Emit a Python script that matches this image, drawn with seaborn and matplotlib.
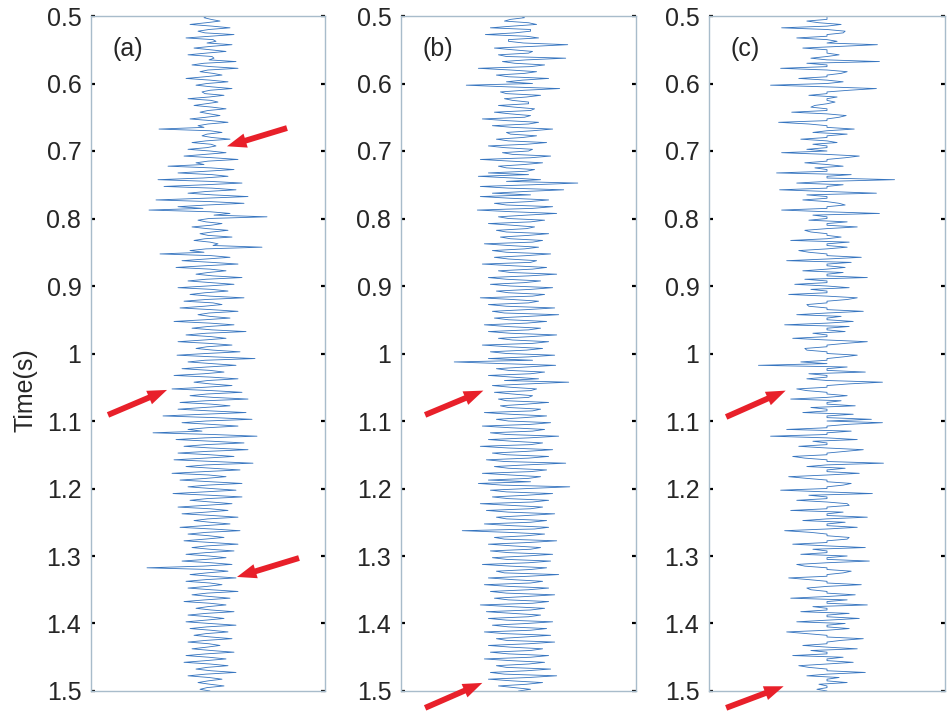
import numpy as np
import pandas as pd
import matplotlib
matplotlib.use("Agg")
import matplotlib.pyplot as plt
import seaborn as sns

# ---------------- data ----------------
# each trace: samples on a 5 ms grid ("base") and the samples half-way between them ("peak")
t_start = 0.5
t_step = 0.005

a_base = [
    0, 3, -2, 4, 1, -3, 2, 5, -1, 3,
    2, -2, 4, 1, -4, 3, 0, 5, -3, 2,
    -1, 4, 2, -3, 1, 3, -2, 4, 0, 2,
    -2, 3, 0, -4, 2, -1, 4, -2, 3, -1,
    2, -3, 5, 0, -4, 3, -2, 4, -5, 2,
    -3, 4, -2, 5, -4, 3, -1, -5, 2, 6,
    1, -2, 3, -1, 4, 0, -3, 2, 5, -2,
    -4, 3, -2, 4, -3, 2, 0, 5, -2, 3,
    -1, 4, -3, 2, -2, 5, -4, 3, 1, 2,
    -3, 2, 0, 4, -2, 3, -4, 1, -1, 5,
    -2, 6, -3, 4, -1, 2, -4, 3, 0, 2,
    -3, 4, -1, 5, -2, 3, -4, 2, -5, 6,
    -2, 3, -1, -6, 5, -3, 4, -2, 3, -1,
    2, -3, 5, -2, 4, -4, 1, -2, 3, -1,
    3, -4, 2, -1, 3, -3, 2, -2, 4, 0,
    2, -3, 4, -2, 1, -3, 3, -1, 2, -2,
    1, -2, 3, -5, 2, -1, 3, -2, 2, -1,
    3, -1, 2, -3, 2, 0, 3, -2, 1, -2,
    2, -1, 3, -2, 3, -2, 1, -1, 3, -2,
    1, -2, 2, -1, 3, -2, 1, 0, 2, -1,
    2,
]
a_peak = [
    -4, 12, -18, 22, -10, 26, -22, 8, 24, -14,
    18, -20, 6, 28, -16, 30, -8, 14, -22, 20,
    -12, 24, -6, 16, -20, 10, -14, 18, -8, 12,
    -18, 20, -10, -49, 14, -6, 22, -16, 8, -20,
    18, -24, 30, -12, -40, 26, -30, 20, -50, 34,
    -44, 28, -20, 40, -52, 36, -30, -59, 22, 59,
    -10, 14, -16, 20, -8, 24, -14, 10, 54, -18,
    -48, 22, -26, 30, -32, 18, -12, 34, -20, 26,
    -30, 20, -18, 36, -24, 14, -28, 30, -10, 22,
    -34, 26, -16, 38, -22, 18, -30, 24, -12, 32,
    -31, 47, -20, 28, -26, 16, -34, 30, -14, 24,
    -36, 34, -18, 40, -28, 22, -30, 38, -45, 44,
    -26, 30, -20, -55, 49, -32, 36, -24, 40, -30,
    26, -34, 45, -22, 32, -36, 18, -28, 34, -20,
    28, -35, 34, -18, 24, -30, 20, -26, 30, -14,
    22, -28, 32, -20, 16, -24, 30, -16, 26, -22,
    18, -26, 24, -61, 20, -18, 28, -22, 14, -20,
    30, -16, 22, -24, 18, -12, 26, -20, 16, -22,
    28, -18, 20, -14, 24, -20, 12, -16, 26, -22,
    18, -24, 20, -12, 28, -20, 14, -10, 16, -8,
]

b_base = [
    2, -8, 10, -6, 12, -4, 8, -10, 5, 14,
    -6, 10, -12, 8, -4, 12, -8, 6, -10, 4,
    14, -10, 6, -12, 8, -6, 10, -4, 12, -8,
    6, -12, 10, -6, 14, -8, 4, -10, 8, -14,
    10, -6, 12, -8, 6, -12, 8, 10, -6, -12,
    14, -10, 6, 12, -8, 10, -12, 14, -6, 8,
    -10, 12, -6, 8, -12, 10, -8, 14, -10, 6,
    -12, 8, -10, 12, -6, 14, -8, 10, -12, 6,
    -8, 12, -10, 14, -6, 10, -12, 8, -14, 10,
    -10, 8, -12, 10, -8, 12, -6, 14, -10, 8,
    -12, 10, 14, -16, 8, -10, 12, -6, -14, 10,
    -8, 12, -6, 10, -12, 8, -10, 14, -8, 6,
    -10, 12, -8, 14, -12, 10, -6, 12, -10, 8,
    -12, 10, -14, 8, -10, 12, -8, 10, 12, -16,
    10, -12, 8, -10, 14, -6, 12, -10, 8, -12,
    12, -8, 16, -10, 8, -14, 10, -6, 12, -10,
    8, -12, 10, -8, 12, -14, 10, -6, 12, -10,
    10, -12, 8, -10, 14, -8, 12, -6, 10, -12,
    8, -10, 12, -14, 6, -12, 10, -8, 12, -10,
    12, -8, 10, -12, 8, -14, 10, -6, 8, -4,
    0,
]
b_peak = [
    6, -14, 18, -28, 12, -33, 20, -10, 49, -24,
    14, -20, 47, -16, 26, -40, 18, -22, 30, -12,
    -52, 41, -18, 22, -14, 10, -20, 16, -24, 12,
    -36, 20, -26, 34, -12, 18, -22, 28, -30, 14,
    -16, 32, -38, 24, -20, 16, -30, -40, 22, 59,
    -38, 45, -26, -38, 30, -24, 34, -41, 38, -20,
    26, -30, 16, -22, 30, -18, 24, -34, 20, -26,
    32, -24, 18, -36, 28, -20, 38, -30, 22, -28,
    34, -22, 26, -38, 20, -30, 36, -26, 40, -24,
    28, -34, 22, -30, 38, -20, 30, -36, 24, -28,
    36, -30, -64, 37, -22, 26, -30, 20, 50, -26,
    18, -24, 14, -20, 30, -18, 22, -34, 28, -22,
    32, -36, 26, -28, 40, -30, 24, -38, 34, -26,
    30, -32, 47, -24, 28, -36, 22, -30, -40, 51,
    -28, 34, -26, 30, -38, 24, -32, 36, -22, 28,
    -34, 30, -56, 26, -24, 38, -30, 22, -28, 34,
    -26, 32, -36, 28, -22, 40, -30, 24, -34, 30,
    -28, 36, -24, 30, -38, 26, -32, 22, -30, 34,
    -26, 28, -34, 32, -22, 36, -30, 24, -28, 30,
    -34, 26, -22, 32, -28, 38, -30, 24, -20, 12,
]

c_base = [
    0, 0, -8, 0, 0, 16, 0, 0, 0, 12,
    0, 0, 0, 0, -20, 0, 0, 14, 0, 0,
    0, 0, 22, 0, 10, 0, 0, -16, 0, 0,
    12, 0, -18, 0, 0, 20, 0, 0, -14, 0,
    0, 0, 18, 0, 0, -12, 0, 24, 0, 0,
    16, 0, 0, -20, 0, 0, 18, 0, 0, -14,
    0, 20, 0, 0, -16, 0, 0, 22, 0, 0,
    -18, 0, 0, 24, 0, 0, 16, 0, -22, 0,
    0, -16, 0, 0, 20, 0, -18, 0, 0, 14,
    0, 0, 22, 0, -14, 0, 0, 18, 0, -20,
    0, 16, 0, 0, 20, 0, -18, 0, 0, 22,
    0, -20, 0, 0, 14, 0, -16, 0, 26, 0,
    0, 20, 0, 24, 0, 0, -14, 0, 0, 18,
    0, -22, 0, 0, 18, 0, 0, -20, 0, 16,
    0, 0, -18, 0, 0, 22, 0, 16, 0, 0,
    18, 0, 0, -16, 0, 20, 0, 0, -14, 0,
    20, 0, 0, -22, 0, 16, 0, -18, 0, 0,
    -16, 0, 0, 20, 0, -14, 0, 22, 0, 0,
    18, 0, 0, -20, 0, 14, 0, 0, -16, 0,
    16, 0, 0, -18, 0, 0, 12, 0, -8, 0,
    0,
]
c_peak = [
    0, -20, 14, -45, 18, 0, -30, 10, 50, -24,
    0, 12, -16, 52, 0, -46, 20, 0, -28, 16,
    -56, 49, 0, -18, 0, 8, -12, 0, -35, 19,
    0, -48, 0, 27, -14, 0, -26, 10, 0, -20,
    -45, 32, 0, -22, 16, 0, -50, 0, 67, -30,
    0, -47, 49, 0, -24, 12, 0, -45, 52, 0,
    -18, 0, 30, -22, 0, 14, -36, 0, 20, -28,
    0, 34, -40, 0, 18, -24, 0, 40, 0, -32,
    22, 0, -38, 30, 0, -20, 0, 36, -30, 0,
    26, -42, 0, 18, 0, -34, 40, 0, -22, 0,
    30, 0, -26, -68, 0, 38, 0, -20, 55, 0,
    -30, 0, 20, -36, 0, 28, 0, -24, 0, 44,
    55, 0, -40, 0, -56, 30, 0, -28, 36, 0,
    -34, 0, 56, -20, 0, 32, -38, 0, 24, 0,
    -46, 45, 0, -30, 20, 0, -36, 0, 40, -24,
    0, 30, -42, 0, 22, 0, -34, 38, 0, -26,
    0, 42, -30, 0, 24, 0, -38, 0, 34, -20,
    0, 28, -36, 0, 40, 0, -26, 0, 32, -30,
    0, 22, -40, 0, 36, 0, -24, 30, 0, -34,
    0, 26, -28, 0, 38, -20, 0, 20, 0, -10,
]

panel_labels = ["(a)", "(b)", "(c)"]
tick_values = [0.5, 0.6, 0.7, 0.8, 0.9, 1.0, 1.1, 1.2, 1.3, 1.4, 1.5]
tick_labels = ["0.5", "0.6", "0.7", "0.8", "0.9", "1", "1.1", "1.2", "1.3", "1.4", "1.5"]

# arrows: (tail_amp, tail_time, tip_amp, tip_time) per panel
arrows_a = [(79, 0.666, 19, 0.693), (-100, 1.091, -41, 1.054), (91, 1.303, 29, 1.331)]
arrows_b = [(-93, 1.091, -35, 1.055), (-93, 1.525, -36, 1.488)]
arrows_c = [(-100, 1.094, -41, 1.055), (-100, 1.525, -43, 1.493)]


def trace_frame(base, peak):
    tb = t_start + t_step * np.arange(len(base))
    tp = t_start + t_step * (np.arange(len(peak)) + 0.5)
    df = pd.DataFrame({"time": np.concatenate([tb, tp]),
                       "amp": np.concatenate([base, peak])})
    return df.sort_values("time").reset_index(drop=True)


# ---------------- style ----------------
sns.set_style("white")
plt.rcParams["font.family"] = ["Liberation Sans", "DejaVu Sans"]

W, H = 949, 712
fig = plt.figure(figsize=(W / 100, H / 100), dpi=100)

axes_px = [(91, 325), (401, 636), (709, 945)]
top_px, bot_px = 16, 691

frames = [trace_frame(a_base, a_peak), trace_frame(b_base, b_peak), trace_frame(c_base, c_peak)]
arrows = [arrows_a, arrows_b, arrows_c]
line_color = "#3574bf"
spine_color = "#a8bccb"
arrow_color = "#e8202a"

for k, (df, (x0, x1)) in enumerate(zip(frames, axes_px)):
    ax = fig.add_axes([x0 / W, 1 - bot_px / H, (x1 - x0) / W, (bot_px - top_px) / H])
    sns.lineplot(data=df, x="amp", y="time", sort=False, estimator=None,
                 orient="y", ax=ax, color=line_color, linewidth=0.6)
    ax.set_xlim(-117, 117)
    ax.set_ylim(1.5, 0.5)
    ax.set_xlabel("")
    ax.set_ylabel("")
    ax.set_xticks([])
    ax.set_yticks(tick_values)
    ax.set_yticklabels(tick_labels)
    ax.tick_params(axis="y", direction="in", left=True, right=True,
                   length=3, width=1.6, color="black", labelsize=18, pad=7)
    for sp in ax.spines.values():
        sp.set_visible(True)
        sp.set_color(spine_color)
        sp.set_linewidth(1.0)
    ax.text(0.09, 0.951, panel_labels[k], transform=ax.transAxes,
            fontsize=18, ha="left", va="center")
    for (xt, yt, xh, yh) in arrows[k]:
        ax.annotate("", xy=(xh, yh), xytext=(xt, yt), xycoords="data",
                    textcoords="data", annotation_clip=False,
                    arrowprops=dict(arrowstyle="simple,head_length=1.4,head_width=1.05,tail_width=0.42",
                                    fc=arrow_color, ec=arrow_color, lw=0,
                                    mutation_scale=10, shrinkA=0, shrinkB=0))

fig.text(25 / W, 1 - 390 / H, "Time(s)", rotation=90, fontsize=18,
         ha="center", va="center")

fig.savefig("out.png", dpi=100)
